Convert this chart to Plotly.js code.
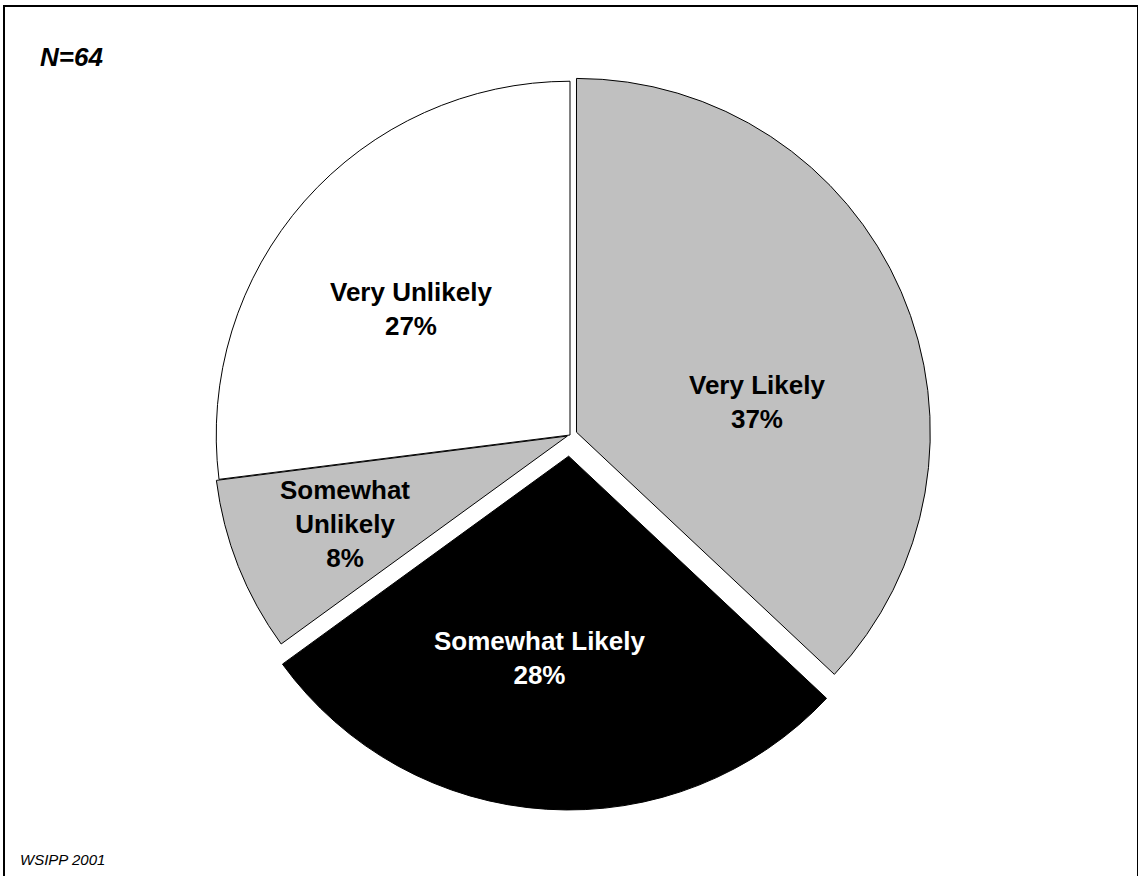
<!DOCTYPE html>
<html>
<head>
<meta charset="utf-8">
<script src="https://cdn.plot.ly/plotly-3.0.1.min.js"></script>
<style>
  html, body { margin: 0; padding: 0; background: #ffffff; }
  #frame { position: absolute; left: 3px; top: 5px; width: 1132px; height: 900px;
           border-top: 2px solid #000; border-left: 2px solid #000; border-right: 1px solid #000; }
  #chart { position: absolute; left: 0; top: 0; width: 1140px; height: 876px; }
</style>
</head>
<body>
<div id="frame"></div>
<div id="chart"></div>
<script>
var categories = ["Very Likely", "Somewhat Likely", "Somewhat Unlikely", "Very Unlikely"];
var percents = [37, 28, 8, 27];
var displayLabels = ["Very Likely", "Somewhat Likely", "Somewhat<br>Unlikely", "Very Unlikely"];
var sampleNote = "N=64";
var sourceNote = "WSIPP 2001";

// styling / placement (not data)
var sliceColors = ["#c0c0c0", "#000000", "#c0c0c0", "#ffffff"];
var textColors = ["#000000", "#ffffff", "#000000", "#000000"];
var pulls = [0.02, 0.06, 0.008, 0];
// label centre offsets from pie centre, in units of pie radius (right, down)
var labelOffsets = [[0.528, -0.092], [-0.085, 0.630], [-0.636, 0.251], [-0.449, -0.356]];

var plotSize = 750;
var maxPull = Math.max.apply(null, pulls);
var radiusPx = plotSize / 2 / (1 + maxPull);
var FONT = "Liberation Sans, Arial, sans-serif";

var trace = {
  type: "pie",
  labels: categories,
  values: percents,
  sort: false,
  direction: "clockwise",
  rotation: 0,
  pull: pulls,
  marker: { colors: sliceColors, line: { color: "#000000", width: 1 } },
  textinfo: "none",
  hoverinfo: "none",
  showlegend: false
};

var annotations = categories.map(function (c, i) {
  return {
    text: "<b>" + displayLabels[i] + "<br>" + percents[i] + "%</b>",
    xref: "paper", yref: "paper",
    x: 0.5 + labelOffsets[i][0] * radiusPx / plotSize,
    y: 0.5 - labelOffsets[i][1] * radiusPx / plotSize,
    xanchor: "center", yanchor: "middle", align: "center",
    showarrow: false,
    font: { family: FONT, size: 26, color: textColors[i] }
  };
});

annotations.push(
  { text: "<b><i>" + sampleNote + "</i></b>", xref: "paper", yref: "paper",
    x: -0.209, y: 0.982, xanchor: "left", yanchor: "bottom", showarrow: false,
    font: { family: FONT, size: 26, color: "#000" } },
  { text: "<i>" + sourceNote + "</i>", xref: "paper", yref: "paper",
    x: -0.236, y: -0.066, xanchor: "left", yanchor: "middle", showarrow: false,
    font: { family: FONT, size: 15, color: "#000" } }
);

var layout = {
  width: 1140,
  height: 876,
  margin: { l: 195, r: 195, t: 60, b: 66 },
  paper_bgcolor: "rgba(0,0,0,0)",
  plot_bgcolor: "rgba(0,0,0,0)",
  showlegend: false,
  annotations: annotations
};

Plotly.newPlot("chart", [trace], layout, { displayModeBar: false, staticPlot: true });
</script>
</body>
</html>
